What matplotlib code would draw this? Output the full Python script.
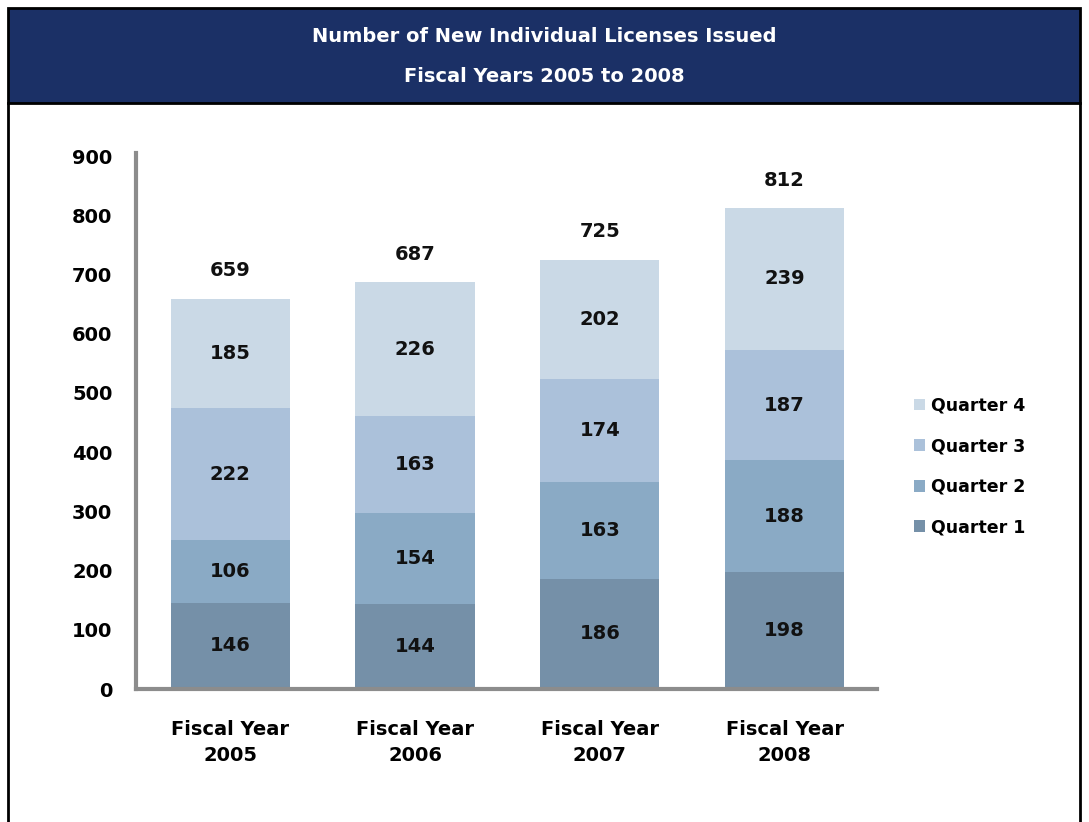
import matplotlib
matplotlib.use("Agg")
import matplotlib.pyplot as plt
from matplotlib.patches import Rectangle
from matplotlib.lines import Line2D

years = ["Fiscal Year\n2005", "Fiscal Year\n2006", "Fiscal Year\n2007", "Fiscal Year\n2008"]
quarters = ["Quarter 1", "Quarter 2", "Quarter 3", "Quarter 4"]
q1 = [146, 144, 186, 198]
q2 = [106, 154, 163, 188]
q3 = [222, 163, 174, 187]
q4 = [185, 226, 202, 239]
totals = [659, 687, 725, 812]

colors = ["#7590a8", "#8aaac5", "#abc1da", "#cad9e6"]
NAVY = "#1b3066"
FONT = "DejaVu Sans"

plt.rcParams["font.family"] = FONT
plt.rcParams["font.weight"] = "bold"

fig = plt.figure(figsize=(10.89, 8.22), dpi=100)
fig.patch.set_facecolor("white")

# frame + header band (pixel coords -> figure fractions)
W, H = 1089, 822
def fx(px):
    return px / W
def fy(py):
    return 1 - py / H

fig.add_artist(Rectangle((fx(8), fy(103)), fx(1080) - fx(8), fy(8) - fy(103),
                         transform=fig.transFigure, facecolor=NAVY,
                         edgecolor="black", linewidth=2, zorder=1))
fig.add_artist(Line2D([fx(8), fx(8)], [fy(103), 0], transform=fig.transFigure,
                      color="black", linewidth=2))
fig.add_artist(Line2D([fx(1080), fx(1080)], [fy(103), 0], transform=fig.transFigure,
                      color="black", linewidth=2))
fig.text(0.5, fy(37), "Number of New Individual Licenses Issued", color="white",
         ha="center", va="center", fontsize=14, fontweight="bold")
fig.text(0.5, fy(76), "Fiscal Years 2005 to 2008", color="white",
         ha="center", va="center", fontsize=14, fontweight="bold")

ax = fig.add_axes([fx(136), fy(689), fx(877) - fx(136), fy(156) - fy(689)])
x = range(len(years))
series = [q1, q2, q3, q4]
bottom = [0] * len(years)
handles = []
for vals, col, name in zip(series, colors, quarters):
    bars = ax.bar(x, vals, width=0.645, bottom=bottom, color=col, label=name, zorder=2)
    handles.append(bars)
    for xi, v, b in zip(x, vals, bottom):
        ax.text(xi, b + v / 2, str(v), ha="center", va="center", fontsize=14,
                color="#111111")
    bottom = [b + v for b, v in zip(bottom, vals)]

for xi, t in zip(x, totals):
    ax.text(xi, t + 47, str(t), ha="center", va="center", fontsize=14, color="#111111")

ax.set_xlim(-0.51, 3.5)
ax.set_ylim(0, 900)
ax.set_yticks(range(0, 901, 100))
ax.set_xticks(list(x))
ax.set_xticklabels(years, fontsize=14, linespacing=1.5)
ax.tick_params(axis="y", length=0, pad=17, labelsize=14)
ax.tick_params(axis="x", length=0, pad=22)
for s in ["top", "right"]:
    ax.spines[s].set_visible(False)
for s in ["left", "bottom"]:
    ax.spines[s].set_color("#8c8c8c")
    ax.spines[s].set_linewidth(3)
ax.spines["left"].set_bounds(0, 905)

axw = fx(877) - fx(136)
leg = ax.legend(handles[::-1], quarters[::-1], loc="upper left",
                bbox_to_anchor=((fx(905) - fx(136)) / axw, (689 - 388) / (689 - 156)),
                frameon=False, fontsize=12.5, handlelength=0.65, handleheight=0.65,
                handletextpad=0.35, labelspacing=1.3, borderpad=0)

fig.savefig("out.png", dpi=100, facecolor="white")
